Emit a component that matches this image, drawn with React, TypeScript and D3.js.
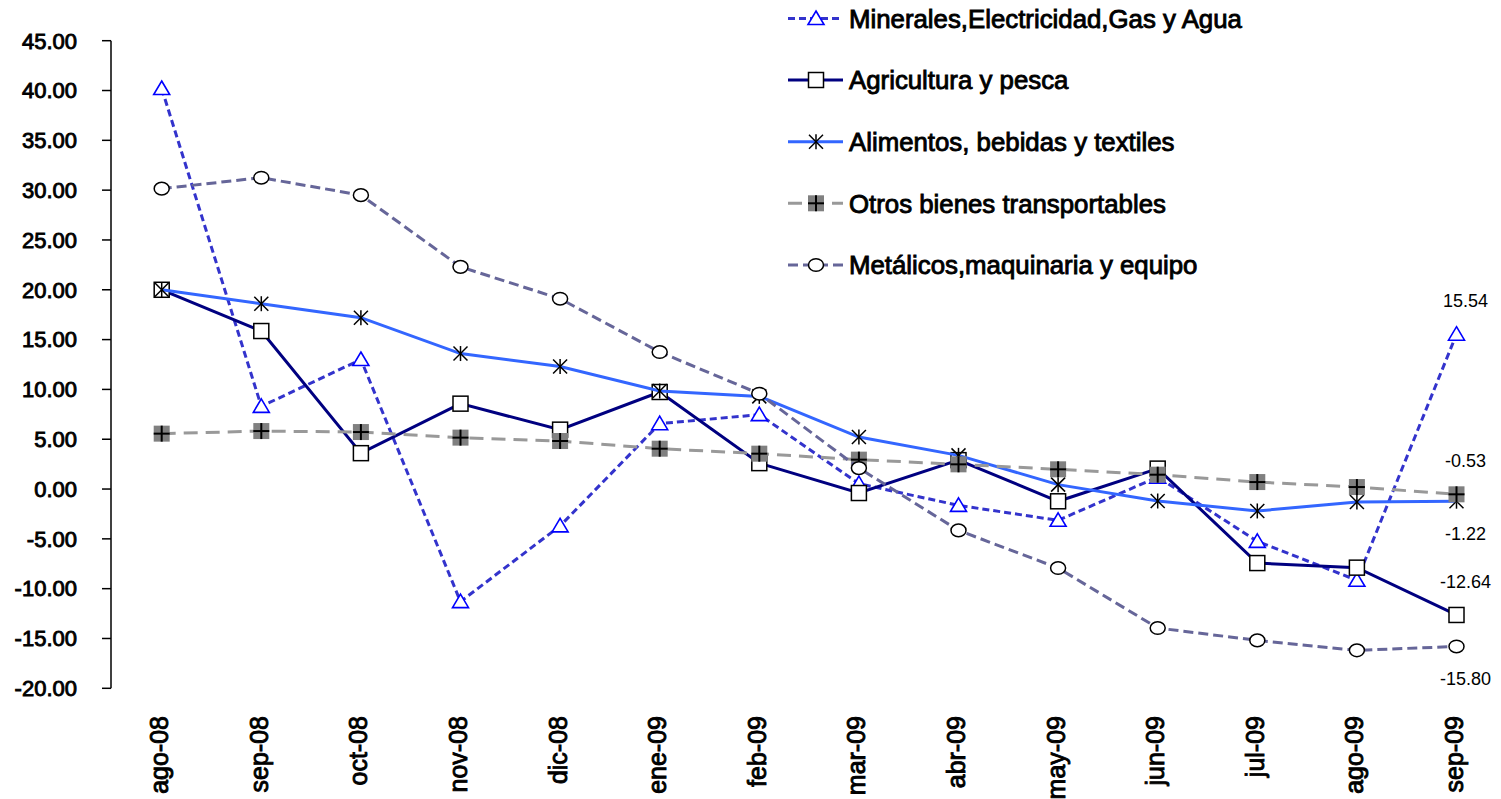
import React from "react";
import * as d3 from "d3";

const categories = ["ago-08","sep-08","oct-08","nov-08","dic-08","ene-09","feb-09","mar-09","abr-09","may-09","jun-09","jul-09","ago-09","sep-09"];

const minerales = [40.2, 8.3, 13.0, -11.3, -3.7, 6.56, 7.47, 0.54, -1.64, -3.14, 1.2, -5.25, -9.16, 15.54];
const agricultura = [20.0, 15.86, 3.6, 8.57, 5.96, 9.74, 2.6, -0.4, 2.9, -1.23, 2.05, -7.43, -7.89, -12.64];
const alimentos = [20.0, 18.6, 17.2, 13.6, 12.3, 9.84, 9.3, 5.22, 3.38, 0.44, -1.2, -2.2, -1.3, -1.22];
const otros = [5.56, 5.82, 5.72, 5.16, 4.82, 4.05, 3.55, 2.95, 2.48, 1.98, 1.44, 0.7, 0.2, -0.53];
const metalicos = [30.15, 31.25, 29.5, 22.3, 19.1, 13.75, 9.57, 2.1, -4.15, -7.93, -13.95, -15.19, -16.19, -15.8];

const seriesNames = [
  "Minerales,Electricidad,Gas y Agua",
  "Agricultura y pesca",
  "Alimentos, bebidas y textiles",
  "Otros bienes transportables",
  "Metálicos,maquinaria y equipo",
];

const yTicks = [-20, -15, -10, -5, 0, 5, 10, 15, 20, 25, 30, 35, 40, 45];

type Marker = "triangle" | "square" | "star" | "plus" | "circle";
interface S { name: string; values: number[]; color: string; width: number; dash: string; marker: Marker; labelPos: "above" | "below"; }

const series: S[] = [
  { name: seriesNames[0], values: minerales, color: "#3333CC", width: 3, dash: "7,4", marker: "triangle", labelPos: "above" },
  { name: seriesNames[1], values: agricultura, color: "#000080", width: 3, dash: "", marker: "square", labelPos: "above" },
  { name: seriesNames[2], values: alimentos, color: "#3366FF", width: 3, dash: "", marker: "star", labelPos: "below" },
  { name: seriesNames[3], values: otros, color: "#999999", width: 3, dash: "14,8", marker: "plus", labelPos: "above" },
  { name: seriesNames[4], values: metalicos, color: "#666699", width: 3, dash: "10,5", marker: "circle", labelPos: "below" },
];

const FONT = "'Liberation Sans', Arial, sans-serif";

function MarkerShape({ type, x, y }: { type: Marker; x: number; y: number }) {
  switch (type) {
    case "triangle":
      return <path d={`M${x},${y - 7.5}L${x + 8},${y + 6}L${x - 8},${y + 6}Z`} fill="#fff" stroke="#0000FF" strokeWidth={1.6} />;
    case "square":
      return <rect x={x - 7.5} y={y - 7.5} width={15} height={15} fill="#fff" stroke="#000" strokeWidth={1.5} />;
    case "star":
      return (
        <g stroke="#000" strokeWidth={1.5}>
          <line x1={x - 7} y1={y - 7} x2={x + 7} y2={y + 7} />
          <line x1={x - 7} y1={y + 7} x2={x + 7} y2={y - 7} />
          <line x1={x} y1={y - 7.5} x2={x} y2={y + 7.5} />
        </g>
      );
    case "plus":
      return (
        <g>
          <rect x={x - 8} y={y - 8} width={16} height={16} fill="#808080" />
          <line x1={x - 8} y1={y} x2={x + 8} y2={y} stroke="#000" strokeWidth={2} />
          <line x1={x} y1={y - 8} x2={x} y2={y + 8} stroke="#000" strokeWidth={2} />
        </g>
      );
    case "circle":
      return <ellipse cx={x} cy={y} rx={7.5} ry={6.3} fill="#fff" stroke="#000" strokeWidth={1.5} />;
  }
  return null;
}

export default function App() {
  const W = 1501, H = 799;
  const x = d3.scalePoint<string>().domain(categories).range([161.7, 1456.5]);
  const y = d3.scaleLinear().domain([-20, 45]).range([688.3, 40.7]);
  const axisX = 111;

  const line = d3.line<number>()
    .x((_, i) => x(categories[i]) as number)
    .y((d) => y(d));

  const legendRows = [18.5, 80, 141.7, 203.3, 265];

  return (
    <svg width={W} height={H} style={{ position: "absolute", left: 0, top: 0, background: "#fff" }} fontFamily={FONT}>
      <rect x={0} y={0} width={W} height={H} fill="#fff" />
      {/* Y axis */}
      <line x1={axisX} y1={y(45)} x2={axisX} y2={y(-20)} stroke="#000" strokeWidth={1.5} />
      {yTicks.map((t) => (
        <g key={t}>
          <line x1={axisX - 9} x2={axisX} y1={y(t)} y2={y(t)} stroke="#000" strokeWidth={1.5} />
          <text x={77} y={y(t) + 7.8} textAnchor="end" fontSize={22} fill="#000" stroke="#000" strokeWidth={0.9}>
            {t.toFixed(2)}
          </text>
        </g>
      ))}
      {/* X labels */}
      {categories.map((c) => {
        const cx = (x(c) as number) + 6.5;
        const ty = 716;
        return (
          <text key={c} transform={`translate(${cx},${ty}) rotate(-90)`} textAnchor="end" fontSize={25} fill="#000" stroke="#000" strokeWidth={0.9}>
            {c}
          </text>
        );
      })}
      {/* Series */}
      {series.map((s) => (
        <g key={s.name}>
          <path d={line(s.values) || ""} fill="none" stroke={s.color} strokeWidth={s.width} strokeDasharray={s.dash || undefined} />
          {s.values.map((v, i) => (
            <MarkerShape key={i} type={s.marker} x={x(categories[i]) as number} y={y(v)} />
          ))}
        </g>
      ))}
      {/* Data labels for last point */}
      {series.map((s) => {
        const v = s.values[s.values.length - 1];
        const px = (x(categories[categories.length - 1]) as number) + 9;
        const py = y(v) + (s.labelPos === "above" ? -27 : 39);
        return (
          <text key={"lbl" + s.name} x={px} y={py} textAnchor="middle" fontSize={18} fill="#000">
            {v.toFixed(2)}
          </text>
        );
      })}
      {/* Legend */}
      {series.map((s, i) => {
        const ry = legendRows[i];
        return (
          <g key={"leg" + s.name}>
            <line x1={788} x2={843} y1={ry} y2={ry} stroke={s.color} strokeWidth={s.width} strokeDasharray={s.dash || undefined} />
            <MarkerShape type={s.marker} x={816} y={ry} />
            <text x={849} y={ry + 9.3} fontSize={25.8} fill="#000" stroke="#000" strokeWidth={0.9}>{s.name}</text>
          </g>
        );
      })}
    </svg>
  );
}
